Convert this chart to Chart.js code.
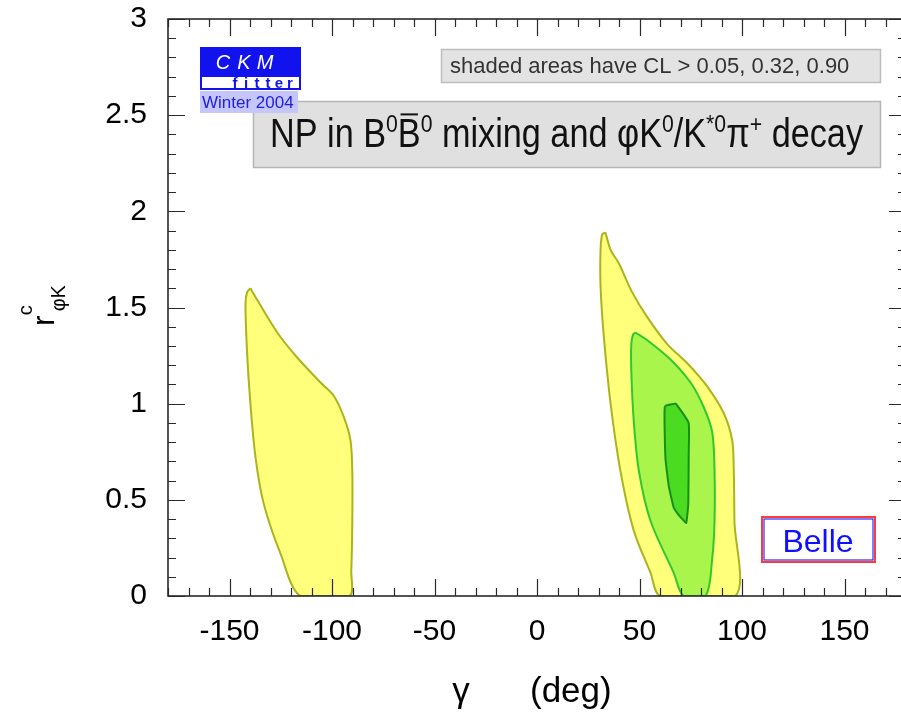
<!DOCTYPE html>
<html>
<head>
<meta charset="utf-8">
<title>NP in B0B0 mixing and phiK0/K*0pi+ decay</title>
<script src="https://cdn.jsdelivr.net/npm/chart.js@4.4.1/dist/chart.umd.min.js"></script>
<style>
  html, body { margin: 0; padding: 0; background: #fff; overflow: hidden; }
  #wrap { width: 901px; height: 714px; overflow: hidden; }
</style>
</head>
<body>
<div id="wrap"><canvas id="chart" width="912" height="714"></canvas></div>
<script>
// contours: gamma (deg) and r^c_phiK
const westOuterGamma = [-139.8, -136.5, -126.7, -117.0, -105.6, -99.1, -94.2, -91.0, -90.1, -90.1, -90.6, -91.5, -115.4, -125.1, -133.3, -137.3, -139.8, -141.4, -142.2, -141.4];
const westOuterR = [1.60, 1.54, 1.37, 1.24, 1.11, 1.04, 0.93, 0.81, 0.65, 0.39, 0.13, 0, 0, 0.22, 0.48, 0.72, 1.00, 1.26, 1.52, 1.58];

const eastOuterGamma = [33.4, 35.9, 39.9, 46.4, 53.8, 63.5, 73.3, 83.0, 91.1, 95.2, 96.0, 96.3, 96.8, 60.2, 55.4, 47.2, 40.7, 35.9, 32.6, 31.0, 31.0, 31.8];
const eastOuterR = [1.89, 1.80, 1.73, 1.58, 1.45, 1.31, 1.21, 1.09, 0.95, 0.81, 0.65, 0.39, 0, 0, 0.12, 0.34, 0.65, 1.00, 1.35, 1.61, 1.80, 1.88];

const eastMidGamma = [48.0, 53.8, 65.1, 74.9, 81.4, 85.5, 86.6, 86.6, 85.5, 82.2, 71.5, 66.7, 55.4, 49.7, 47.2, 46.0, 46.0, 46.9];
const eastMidR = [1.37, 1.33, 1.23, 1.11, 0.98, 0.85, 0.65, 0.39, 0.20, 0, 0, 0.12, 0.39, 0.65, 0.91, 1.17, 1.31, 1.36];

const eastInnerGamma = [62.7, 67.6, 74.0, 74.0, 73.8, 72.8, 70.0, 66.7, 64.3, 62.7, 62.2, 62.3];
const eastInnerR = [0.99, 1.00, 0.90, 0.74, 0.48, 0.38, 0.41, 0.46, 0.57, 0.71, 0.91, 0.98];

const xTickLabels = [-150, -100, -50, 0, 50, 100, 150];
const yTickLabels = [0, 0.5, 1, 1.5, 2, 2.5, 3];

const FONT = "'Liberation Sans', Arial, Helvetica, sans-serif";

const toPoints = (xs, ys) =>
  xs.map((x, i) => ({ x, y: ys[i] })).concat([{ x: xs[0], y: ys[0] }]);

const contour = (xs, ys, fill, line, order, tension) => ({
  data: toPoints(xs, ys),
  showLine: true,
  fill: 'shape',
  backgroundColor: fill,
  borderColor: line,
  borderWidth: 2,
  pointRadius: 0,
  tension,
  order,
});

const YELLOW = '#ffff7c', YELLOW_LINE = '#a9b41e';
const LIGHTGREEN = '#aaf54c', LIGHTGREEN_LINE = '#2fc92f';
const GREEN = '#4bdc22', GREEN_LINE = '#168f16';

const isMajorX = (v) => xTickLabels.includes(v);
const isMajorY = (v) => yTickLabels.some((t) => Math.abs(t - v) < 1e-6);

// keep the frame where it is, labels may hang over the edges
const noEdgePadding = (s) => {
  s.paddingTop = 0;
  s.paddingBottom = 0;
  s.paddingLeft = 0;
  s.paddingRight = 0;
};

// root style frame: ticks point inwards on all four sides
const frameTicks = {
  id: 'frameTicks',
  afterDatasetsDraw(chart) {
    const { ctx, chartArea: a, scales: { x, y } } = chart;
    ctx.save();
    ctx.strokeStyle = '#2a2a2a';
    ctx.lineWidth = 1.2;
    ctx.beginPath();
    x.ticks.forEach((t) => {
      const px = Math.round(x.getPixelForValue(t.value)) + 0.5;
      const len = isMajorX(t.value) ? 17 : 8;
      ctx.moveTo(px, a.bottom); ctx.lineTo(px, a.bottom - len);
      ctx.moveTo(px, a.top); ctx.lineTo(px, a.top + len);
    });
    y.ticks.forEach((t) => {
      const py = Math.round(y.getPixelForValue(t.value)) + 0.5;
      const len = isMajorY(t.value) ? 17 : 8;
      ctx.moveTo(a.left, py); ctx.lineTo(a.left + len, py);
      ctx.moveTo(a.right, py); ctx.lineTo(a.right - len, py);
    });
    ctx.stroke();
    ctx.lineWidth = 1.6;
    ctx.strokeRect(a.left, a.top, a.right - a.left, a.bottom - a.top);
    ctx.restore();
  },
};

function drawRuns(ctx, runs, x, baseline, size, width) {
  let total = 0;
  runs.forEach((r) => {
    r.size = r.sup ? size * 0.62 : size;
    ctx.font = `${r.size}px ${FONT}`;
    r.w = ctx.measureText(r.t).width;
    total += r.w;
  });
  ctx.save();
  ctx.translate(x, baseline);
  ctx.scale(width / total, 1);
  let cx = 0;
  runs.forEach((r) => {
    ctx.font = `${r.size}px ${FONT}`;
    ctx.fillText(r.t, cx, r.sup ? -size * 0.38 : 0);
    if (r.bar) {
      ctx.fillRect(cx + r.w * 0.12, -size * 0.84, r.w * 0.76, 2);
    }
    cx += r.w;
  });
  ctx.restore();
}

function pave(ctx, x, y, w, h, fill, border) {
  ctx.fillStyle = fill;
  ctx.fillRect(x, y, w, h);
  ctx.strokeStyle = border;
  ctx.lineWidth = 1.5;
  ctx.strokeRect(x + 0.5, y + 0.5, w, h);
}

const annotations = {
  id: 'annotations',
  afterDraw(chart) {
    const { ctx } = chart;
    ctx.save();
    ctx.textBaseline = 'alphabetic';
    ctx.textAlign = 'left';

    // confidence level legend
    pave(ctx, 441, 49, 439, 33, '#e3e3e3', '#bdbdbd');
    ctx.fillStyle = '#333';
    ctx.font = `22px ${FONT}`;
    ctx.fillText('shaded areas have CL > 0.05, 0.32, 0.90', 450, 73, 423);

    // title
    pave(ctx, 253, 101, 627, 66, '#e0e0e0', '#b5b5b5');
    ctx.fillStyle = '#111';
    drawRuns(ctx, [
      { t: 'NP in B' }, { t: '0', sup: true }, { t: 'B', bar: true }, { t: '0', sup: true },
      { t: ' mixing and \u03c6K' }, { t: '0', sup: true }, { t: '/K' }, { t: '*0', sup: true },
      { t: '\u03c0' }, { t: '+', sup: true }, { t: ' decay' },
    ], 270, 147, 40, 593);

    // CKMfitter logo, on top of the title box corner
    ctx.fillStyle = '#1212ee';
    ctx.fillRect(200, 47, 101, 29);
    ctx.fillStyle = '#fff';
    ctx.fillRect(200, 76, 101, 13);
    ctx.strokeStyle = '#1212ee';
    ctx.lineWidth = 2;
    ctx.strokeRect(201, 76, 99, 13);
    ctx.fillStyle = '#fff';
    ctx.font = `italic 20px ${FONT}`;
    ctx.textAlign = 'center';
    ['C', 'K', 'M'].forEach((ch, i) => ctx.fillText(ch, 223 + i * 21, 69));
    ctx.fillStyle = '#1212ee';
    ctx.font = `bold 15px ${FONT}`;
    ['f', 'i', 't', 't', 'e', 'r'].forEach((ch, i) => ctx.fillText(ch, 235 + i * 11, 88));
    ctx.fillStyle = '#c6c6ff';
    ctx.fillRect(200, 91, 98, 22);
    ctx.fillStyle = '#2020dd';
    ctx.font = `17px ${FONT}`;
    ctx.textAlign = 'left';
    ctx.fillText('Winter 2004', 202, 108, 93);

    // experiment tag
    ctx.fillStyle = '#fff';
    ctx.fillRect(762, 517, 113, 45);
    ctx.lineWidth = 2;
    ctx.strokeStyle = '#ff3a3a';
    ctx.strokeRect(762, 517, 113, 45);
    ctx.strokeStyle = '#2a2aff';
    ctx.lineWidth = 1.2;
    ctx.strokeRect(764, 519, 109, 41);
    ctx.fillStyle = '#1010ff';
    ctx.font = `32px ${FONT}`;
    ctx.textAlign = 'center';
    ctx.fillText('Belle', 818, 552);

    // axis titles
    ctx.fillStyle = '#000';
    ctx.font = `35px ${FONT}`;
    ctx.fillText('\u03b3', 461, 702);
    ctx.textAlign = 'left';
    ctx.fillText('(deg)', 530, 702);

    ctx.translate(54, 326);
    ctx.rotate(-Math.PI / 2);
    ctx.font = `32px ${FONT}`;
    ctx.fillText('r', 0, 0);
    const rw = ctx.measureText('r').width;
    ctx.font = `20px ${FONT}`;
    ctx.fillText('c', rw, -22);
    ctx.fillText('\u03c6K', rw + 4, 11);
    ctx.restore();
  },
};

const ctx = document.getElementById('chart').getContext('2d');
new Chart(ctx, {
  type: 'scatter',
  data: {
    datasets: [
      contour(eastInnerGamma, eastInnerR, GREEN, GREEN_LINE, 0, 0.1),
      contour(eastMidGamma, eastMidR, LIGHTGREEN, LIGHTGREEN_LINE, 1, 0.3),
      contour(eastOuterGamma, eastOuterR, YELLOW, YELLOW_LINE, 2, 0.3),
      contour(westOuterGamma, westOuterR, YELLOW, YELLOW_LINE, 2, 0.3),
    ],
  },
  options: {
    responsive: false,
    animation: false,
    devicePixelRatio: 1,
    layout: { padding: { top: 19, right: 6, left: 0, bottom: 0 } },
    plugins: {
      legend: { display: false },
      tooltip: { enabled: false },
    },
    scales: {
      x: {
        type: 'linear',
        min: -180,
        max: 180,
        afterFit: (s) => { s.height = 118; noEdgePadding(s); },
        grid: { display: false, drawTicks: false },
        border: { display: false },
        ticks: {
          stepSize: 10,
          autoSkip: false,
          maxRotation: 0,
          padding: 18,
          color: '#000',
          font: { family: FONT, size: 30 },
          callback: (v) => (isMajorX(v) ? String(v) : ''),
        },
      },
      y: {
        type: 'linear',
        min: 0,
        max: 3,
        afterFit: (s) => { s.width = 168; noEdgePadding(s); },
        grid: { display: false, drawTicks: false },
        border: { display: false },
        ticks: {
          stepSize: 0.1,
          autoSkip: false,
          padding: 21,
          color: '#000',
          font: { family: FONT, size: 30 },
          callback: (v) => (isMajorY(v) ? String(Math.round(v * 10) / 10) : ''),
        },
      },
    },
  },
  plugins: [frameTicks, annotations],
});
</script>
</body>
</html>
